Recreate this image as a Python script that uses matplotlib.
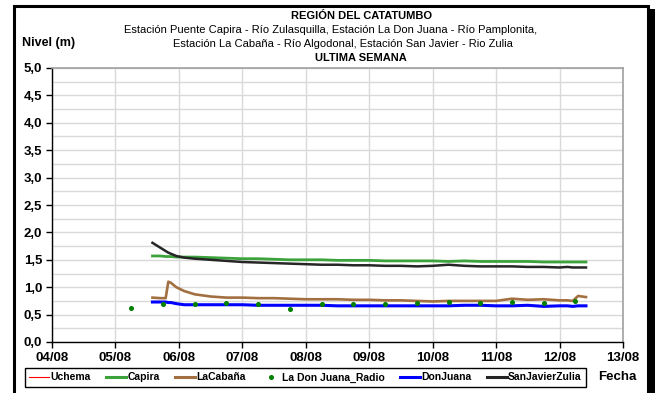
import matplotlib
matplotlib.use("Agg")
import matplotlib.pyplot as plt
from matplotlib.patches import Rectangle
from matplotlib.lines import Line2D

plt.rcParams['font.family'] = ['Liberation Sans', 'DejaVu Sans']

# hours counted from 04/08 00:00
hours = [38, 41, 43, 44, 45, 47, 50, 54, 60, 66, 72, 78, 84, 90, 96, 102, 108, 114,
         120, 126, 132, 138, 144, 150, 156, 162, 168, 174, 180, 186, 192, 195, 197, 199, 202]

capira = [1.57, 1.57, 1.56, 1.56, 1.56, 1.55, 1.55, 1.55, 1.54, 1.53, 1.52, 1.52, 1.51,
          1.50, 1.50, 1.50, 1.49, 1.49, 1.49, 1.48, 1.48, 1.48, 1.48, 1.47, 1.48, 1.47,
          1.47, 1.47, 1.47, 1.46, 1.46, 1.46, 1.46, 1.46, 1.46]

san_javier = [1.81, 1.72, 1.66, 1.63, 1.61, 1.57, 1.54, 1.52, 1.50, 1.48, 1.46, 1.45, 1.44,
              1.43, 1.42, 1.41, 1.41, 1.40, 1.40, 1.39, 1.39, 1.38, 1.39, 1.41, 1.39, 1.38,
              1.38, 1.38, 1.37, 1.37, 1.36, 1.37, 1.36, 1.36, 1.36]

la_cabana = [0.81, 0.80, 0.80, 1.10, 1.08, 1.00, 0.93, 0.87, 0.83, 0.81, 0.81, 0.80, 0.80,
             0.79, 0.78, 0.78, 0.78, 0.77, 0.77, 0.76, 0.76, 0.75, 0.74, 0.75, 0.75, 0.75,
             0.75, 0.79, 0.77, 0.78, 0.76, 0.76, 0.75, 0.84, 0.82]

don_juana = [0.73, 0.73, 0.73, 0.72, 0.72, 0.70, 0.68, 0.68, 0.68, 0.68, 0.68, 0.67, 0.67,
             0.67, 0.67, 0.67, 0.66, 0.66, 0.66, 0.66, 0.66, 0.66, 0.66, 0.66, 0.67, 0.67,
             0.66, 0.66, 0.67, 0.65, 0.66, 0.66, 0.65, 0.66, 0.66]

radio_hours = [30, 42, 54, 66, 78, 90, 102, 114, 126, 138, 150, 162, 174, 186, 198]
radio = [0.62, 0.69, 0.70, 0.72, 0.70, 0.61, 0.69, 0.70, 0.69, 0.72, 0.73, 0.72, 0.73, 0.72, 0.75]

day_labels = ["04/08", "05/08", "06/08", "07/08", "08/08", "09/08", "10/08", "11/08", "12/08", "13/08"]
y_ticks = [0.0, 0.5, 1.0, 1.5, 2.0, 2.5, 3.0, 3.5, 4.0, 4.5, 5.0]

W, H = 655, 393
fig = plt.figure(figsize=(W / 100, H / 100), dpi=100)
ax = fig.add_axes([52 / W, 1 - 342 / H, (623 - 52) / W, (342 - 68) / H])

c_green = '#3ca33c'
c_brown = '#a27040'
c_blue = '#0000ff'
c_black = '#262626'

ax.plot(hours, capira, color=c_green, lw=2, zorder=3)
ax.plot(hours, la_cabana, color=c_brown, lw=1.9, zorder=3)
ax.plot(hours, don_juana, color=c_blue, lw=2.2, zorder=3)
ax.plot(hours, san_javier, color=c_black, lw=1.8, zorder=4)
ax.plot(radio_hours, radio, 'o', color='#008000', ms=2.6, zorder=5)

ax.set_xlim(0, 216)
ax.set_ylim(0, 5)
ax.set_xticks([24 * i for i in range(len(day_labels))])
ax.set_xticklabels(day_labels)
ax.set_yticks(y_ticks)
ax.set_yticklabels([f"{v:.1f}".replace('.', ',') for v in y_ticks])
ax.set_yticks([0.25 + 0.5 * i for i in range(10)], minor=True)
ax.tick_params(axis='y', which='minor', length=0)
ax.grid(True, which='both', color='#d9d9d9', lw=1)
ax.set_axisbelow(True)
ax.tick_params(axis='both', direction='out', length=4, width=1, colors='black',
               labelsize=9.5)
for lab in ax.get_xticklabels() + ax.get_yticklabels():
    lab.set_fontweight('bold')
ax.tick_params(axis='x', pad=3)
ax.tick_params(axis='y', pad=3)
for s in ['top', 'right']:
    ax.spines[s].set_color('#a0a0a0')
    ax.spines[s].set_linewidth(1.2)
for s in ['left', 'bottom']:
    ax.spines[s].set_color('black')
    ax.spines[s].set_linewidth(1)

# titles
fig.text(362 / W, 1 - 16 / H, "REGIÓN DEL CATATUMBO", ha='center', va='center',
         fontsize=8, fontweight='bold')
fig.text(331 / W, 1 - 30 / H,
         "Estación Puente Capira - Río Zulasquilla, Estación La Don Juana - Río Pamplonita,",
         ha='center', va='center', fontsize=8)
fig.text(343 / W, 1 - 44 / H,
         "Estación La Cabaña - Río Algodonal, Estación San Javier - Rio Zulia",
         ha='center', va='center', fontsize=8)
fig.text(361 / W, 1 - 58 / H, "ULTIMA SEMANA", ha='center', va='center',
         fontsize=8, fontweight='bold')
fig.text(22 / W, 1 - 43 / H, "Nivel (m)", ha='left', va='center', fontsize=9,
         fontweight='bold')
fig.text(598 / W, 1 - 377 / H, "Fecha", ha='left', va='center', fontsize=9.5,
         fontweight='bold')

# legend
handles = [
    Line2D([], [], color='red', lw=0.8),
    Line2D([], [], color=c_green, lw=2.2),
    Line2D([], [], color=c_brown, lw=2.2),
    Line2D([], [], color='#008000', marker='o', ms=2.6, lw=0),
    Line2D([], [], color=c_blue, lw=2.2),
    Line2D([], [], color=c_black, lw=2.2),
]
names = ["Uchema", "Capira", "LaCabaña", "La Don Juana_Radio", "DonJuana", "SanJavierZulia"]
leg = fig.legend(handles, names, loc='center', ncol=6,
                 bbox_to_anchor=((23 + 588) / 2 / W, 1 - 377.5 / H),
                 prop={'size': 7.5, 'weight': 'bold'}, frameon=True, fancybox=False,
                 edgecolor='black', framealpha=1, handlelength=1.9, handletextpad=0.15,
                 columnspacing=1.45, borderpad=0.45, borderaxespad=0)
leg.get_frame().set_linewidth(1)

# outer frame with shadow
fig.patches.append(Rectangle((13.5 / W, -0.05), (648 - 13.5) / W, (1 - 6 / H) + 0.05,
                             transform=fig.transFigure, fill=False, ec='black', lw=2.2))
fig.patches.append(Rectangle((648 / W, 0), 7 / W, 1 - 9 / H,
                             transform=fig.transFigure, color='black', lw=0))

fig.savefig("out.png", dpi=100)
